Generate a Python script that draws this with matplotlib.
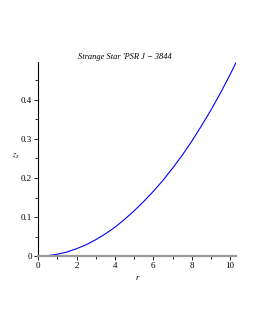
import matplotlib
matplotlib.use("Agg")
import matplotlib.pyplot as plt
from matplotlib.ticker import MultipleLocator

# Data
r_vals = [0.0, 0.5, 1.0, 1.5, 2.0, 2.5, 3.0, 3.5, 4.0, 4.5, 5.0, 5.5, 6.0,
          6.5, 7.0, 7.5, 8.0, 8.5, 9.0, 9.5, 10.0, 10.3]
zs_vals = [0.0, 0.0012, 0.0047, 0.0105, 0.019, 0.029, 0.042, 0.057, 0.074,
           0.094, 0.116, 0.140, 0.166, 0.194, 0.225, 0.258, 0.294, 0.333,
           0.374, 0.418, 0.465, 0.495]
title_text = "Strange Star 'PSR J \u2212 3844"
xlabel_text = "r"
ylabel_text = "$z_s$"

plt.rcParams['font.family'] = ['Liberation Serif', 'DejaVu Serif']
plt.rcParams['mathtext.fontset'] = 'stix'

fig = plt.figure(figsize=(2.55, 3.3), dpi=100)
ax = fig.add_axes([0.150, 0.224, 0.775, 0.588])

ax.plot(r_vals, zs_vals, color='#0000ff', lw=0.8)

ax.set_xlim(0, 10.3)
ax.set_ylim(0, 0.497)

for s in ['top', 'right']:
    ax.spines[s].set_visible(False)
ax.spines['left'].set_color('black')
ax.spines['left'].set_linewidth(0.8)
ax.spines['bottom'].set_color('#999999')
ax.spines['bottom'].set_linewidth(1.6)

ax.xaxis.set_minor_locator(MultipleLocator(1))
ax.yaxis.set_minor_locator(MultipleLocator(0.05))
ax.set_yticks([0, 0.1, 0.2, 0.3, 0.4])
ax.set_yticklabels(['0', '0.1', '0.2', '0.3', '0.4'])
ax.set_xticks([0, 2, 4, 6, 8, 10])
ax.set_xticklabels(['0', '2', '4', '6', '8', '10'])

ax.tick_params(axis='both', which='major', length=3, width=0.6, labelsize=6.5,
               pad=1.5, color='black')
ax.tick_params(axis='both', which='minor', length=2, width=0.6, color='black')

ax.text(0.44, 1.005, title_text, transform=ax.transAxes, fontsize=6.0,
        style='italic', ha='center', va='bottom')
ax.set_xlabel(xlabel_text, fontsize=6.5, style='italic', labelpad=3)
ax.set_ylabel(ylabel_text, fontsize=6.5, rotation=0, labelpad=6)
ax.yaxis.set_label_coords(-0.115, 0.49)

fig.savefig("out.png", dpi=100)
